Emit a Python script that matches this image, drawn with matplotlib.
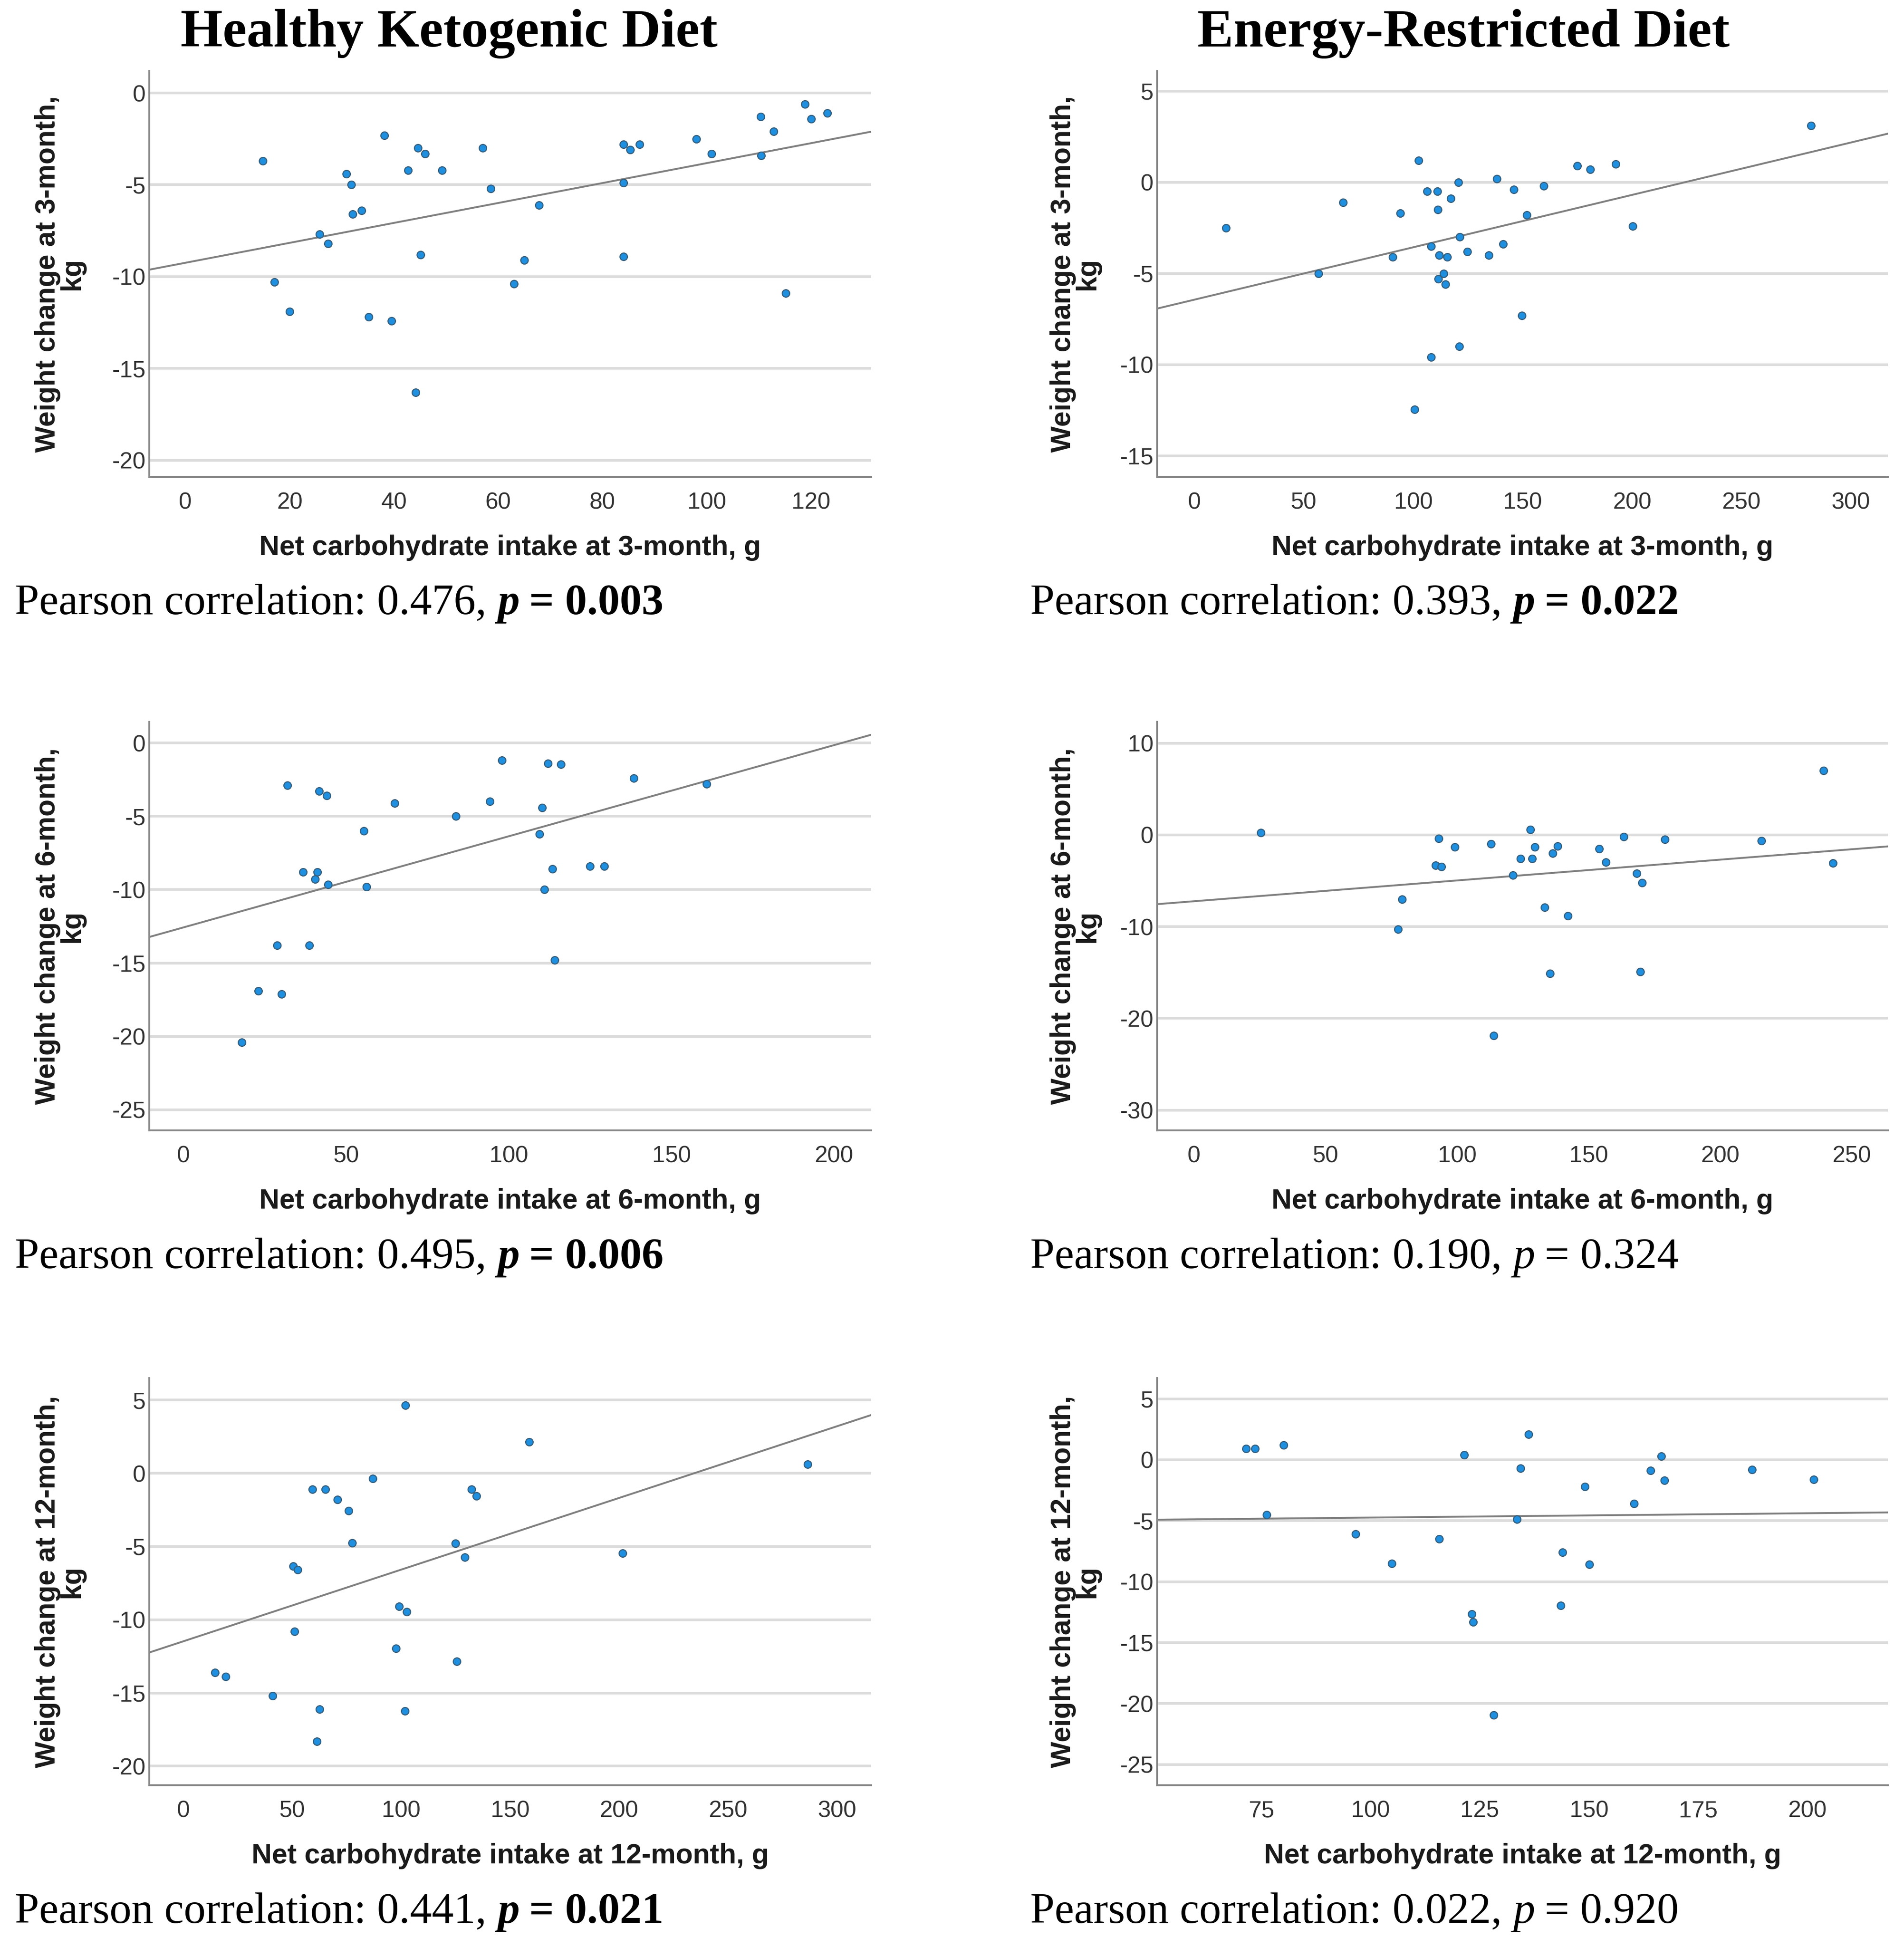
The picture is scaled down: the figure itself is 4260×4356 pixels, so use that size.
import matplotlib
matplotlib.use("Agg")
import matplotlib.pyplot as plt
import numpy as np

plt.rcParams['font.family'] = ['Liberation Sans', 'DejaVu Sans']
plt.rcParams['axes.unicode_minus'] = False

# ---- data (x: net carbs g, y: weight change kg) ----
hkd3_x = [14.9, 17.1, 20.0, 25.7, 27.4, 30.9, 31.8, 32.1, 33.8, 35.2, 38.2, 39.5, 42.7,
          44.6, 44.2, 45.1, 46.0, 49.2, 57.0, 58.6, 63.0, 65.0, 67.8, 84.0, 84.0, 84.0,
          85.3, 87.1, 98.0, 100.9, 110.3, 110.4, 112.8, 115.1, 118.8, 120.0, 123.1]
hkd3_y = [-3.7, -10.3, -11.9, -7.7, -8.2, -4.4, -5.0, -6.6, -6.4, -12.2, -2.3, -12.4, -4.2,
          -3.0, -16.3, -8.8, -3.3, -4.2, -3.0, -5.2, -10.4, -9.1, -6.1, -2.8, -4.9, -8.9,
          -3.1, -2.8, -2.5, -3.3, -1.3, -3.4, -2.1, -10.9, -0.6, -1.4, -1.1]

erd3_x = [14.4, 56.6, 68.0, 90.6, 94.1, 100.6, 102.5, 106.3, 108.2, 108.2, 111.0, 111.2,
          111.8, 111.5, 113.9, 114.8, 115.6, 117.2, 120.7, 121.3, 121.0, 124.8, 134.6,
          138.2, 141.1, 146.0, 149.6, 152.0, 159.6, 175.1, 180.9, 192.6, 200.4, 281.8]
erd3_y = [-2.5, -5.0, -1.1, -4.1, -1.7, -12.45, 1.2, -0.5, -3.5, -9.6, -0.5, -1.5,
          -4.0, -5.3, -5.0, -5.6, -4.1, -0.9, 0.0, -3.0, -9.0, -3.8, -4.0,
          0.2, -3.4, -0.4, -7.3, -1.8, -0.2, 0.9, 0.7, 1.0, -2.4, 3.1]

hkd6_x = [17.9, 23.0, 28.8, 30.2, 32.0, 36.7, 38.7, 40.4, 41.1, 41.7, 44.1, 44.5, 55.5,
          56.2, 64.9, 83.8, 94.2, 97.9, 109.5, 110.2, 110.9, 112.1, 113.4, 114.1, 116.0,
          124.9, 129.3, 138.5, 160.8]
hkd6_y = [-20.4, -16.9, -13.8, -17.1, -2.9, -8.8, -13.8, -9.3, -8.8, -3.3, -3.6, -9.65, -6.0,
          -9.8, -4.1, -5.0, -4.0, -1.2, -6.2, -4.4, -10.0, -1.4, -8.6, -14.8, -1.45,
          -8.4, -8.4, -2.4, -2.8]

erd6_x = [25.3, 77.6, 79.0, 91.9, 93.0, 94.1, 99.1, 112.9, 114.0, 121.3, 124.2, 127.8,
          128.5, 129.6, 133.3, 135.3, 136.4, 138.2, 142.1, 154.1, 156.6, 163.3, 168.3,
          170.4, 169.7, 179.0, 215.8, 239.4, 243.0]
erd6_y = [0.25, -10.3, -7.0, -3.3, -0.4, -3.45, -1.3, -1.0, -21.9, -4.4, -2.6, 0.6,
          -2.6, -1.3, -7.9, -15.1, -2.0, -1.2, -8.8, -1.5, -3.0, -0.2, -4.2,
          -5.2, -14.9, -0.5, -0.65, 7.0, -3.05]

hkd12_x = [14.4, 19.4, 40.9, 50.4, 50.9, 52.5, 59.3, 61.2, 62.5, 65.1, 70.6, 75.9, 77.4,
           86.9, 97.6, 99.0, 101.8, 101.6, 102.6, 124.9, 125.5, 129.1, 132.3, 134.6,
           158.8, 201.6, 286.6]
hkd12_y = [-13.6, -13.9, -15.2, -6.35, -10.8, -6.6, -1.1, -18.3, -16.1, -1.1, -1.8, -2.55,
           -4.75, -0.35, -11.95, -9.1, 4.65, -16.25, -9.45, -4.8, -12.85, -5.75, -1.1,
           -1.55, 2.15, -5.45, 0.6]

erd12_x = [71.5, 73.6, 76.2, 80.1, 96.6, 104.9, 115.7, 121.4, 123.2, 123.5, 128.2, 133.5,
           134.3, 136.2, 143.5, 143.9, 149.1, 150.1, 160.3, 164.1, 166.6, 167.3, 187.3, 201.4]
erd12_y = [0.93, 0.93, -4.5, 1.2, -6.1, -8.5, -6.5, 0.4, -12.65, -13.3, -20.95, -4.9,
           -0.7, 2.1, -11.95, -7.6, -2.2, -8.6, -3.6, -0.9, 0.3, -1.7, -0.8, -1.6]

months = ['3', '3', '6', '6', '12', '12']
pearson_r = ['0.476', '0.393', '0.495', '0.190', '0.441', '0.022']
p_values = ['0.003', '0.022', '0.006', '0.324', '0.021', '0.920']
significant = [True, True, True, False, True, False]
titles = ['Healthy Ketogenic Diet', 'Energy-Restricted Diet']

xlims = [(-6.9, 131.5), (-17, 317), (-10.5, 211.4), (-14, 263.8), (-15.7, 315.8), (51.2, 218.4)]
ylims = [(-20.9, 1.2), (-16.15, 6.1), (-26.4, 1.42), (-32.2, 12.3), (-21.3, 6.5), (-26.7, 6.7)]
xticks = [np.arange(0, 121, 20), np.arange(0, 301, 50), np.arange(0, 201, 50),
          np.arange(0, 251, 50), np.arange(0, 301, 50), np.arange(75, 201, 25)]
yticks = [np.arange(-20, 1, 5), np.arange(-15, 6, 5), np.arange(-25, 1, 5),
          np.arange(-30, 11, 10), np.arange(-20, 6, 5), np.arange(-25, 6, 5)]

xs = [hkd3_x, erd3_x, hkd6_x, erd6_x, hkd12_x, erd12_x]
ys = [hkd3_y, erd3_y, hkd6_y, erd6_y, hkd12_y, erd12_y]

# ---- layout (reference measured on a 1530 x 1564 view) ----
W, H = 1530.0, 1564.0
cols = [(120, 700), (930, 1517)]
rows = [(57, 383), (580, 908), (1107, 1434)]

fig = plt.figure(figsize=(14.2, 14.52), dpi=300)

serif = ['Liberation Serif', 'DejaVu Serif']

for c, t in enumerate(titles):
    cx = [361, 1176][c]
    fig.text(cx / W, 1 - 27 / H, t, family=serif, fontweight='bold', fontsize=29,
             ha='center', va='center')

for i in range(6):
    row, col = divmod(i, 2)
    l, r = cols[col]
    top, bot = rows[row]
    ax = fig.add_axes([l / W, 1 - bot / H, (r - l) / W, (bot - top) / H])
    x = np.array(xs[i])
    y = np.array(ys[i])

    for yt in yticks[i]:
        ax.axhline(yt, color='#dcdcdc', lw=1.4, zorder=0)
    slope, icpt = np.polyfit(x, y, 1)
    xl = np.array(xlims[i])
    ax.plot(xl, icpt + slope * xl, color='#808080', lw=1.0, zorder=1)
    ax.scatter(x, y, s=16, facecolor='#1f8fe0', edgecolor='#35607f', linewidth=0.6, zorder=2)

    ax.set_xlim(xlims[i])
    ax.set_ylim(ylims[i])
    ax.set_xticks(xticks[i])
    ax.set_yticks(yticks[i])
    ax.tick_params(length=0, labelsize=12.5, labelcolor='#333333')
    ax.tick_params(axis='x', pad=8)
    ax.tick_params(axis='y', pad=2)
    for s in ['top', 'right']:
        ax.spines[s].set_visible(False)
    for s in ['left', 'bottom']:
        ax.spines[s].set_color('#8a8a8a')
        ax.spines[s].set_linewidth(1.0)

    m = months[i]
    fig.text((l + r) / 2 / W, 1 - (bot + 57) / H, 'Net carbohydrate intake at %s-month, g' % m,
             fontweight='bold', fontsize=15, ha='center', va='center', color='#1a1a1a')
    ylx = [48, 864][col]
    fig.text(ylx / W, 1 - (top + bot) / 2 / H, 'Weight change at %s-month,\nkg' % m,
             rotation=90, fontweight='bold', fontsize=15, ha='center', va='center',
             color='#1a1a1a', linespacing=0.9)

    # Pearson line with bold/italic p
    px = [12, 828][col]
    py = 1 - (bot + 118) / H
    wt = 'bold' if significant[i] else 'normal'
    t1 = fig.text(px / W, py, 'Pearson correlation: %s,' % pearson_r[i], family=serif,
                  fontsize=23.5, va='bottom', ha='left')
    t2 = ax.annotate('p', xy=(1, 0), xycoords=t1, xytext=(6, 0), textcoords='offset points',
                     family=serif, fontsize=23.5, fontstyle='italic', fontweight=wt,
                     va='bottom', ha='left', annotation_clip=False)
    ax.annotate('= %s' % p_values[i], xy=(1, 0), xycoords=t2, xytext=(5, 0),
                textcoords='offset points', family=serif, fontsize=23.5, fontweight=wt,
                va='bottom', ha='left', annotation_clip=False)

fig.savefig('out.png', dpi=300, facecolor='white')
